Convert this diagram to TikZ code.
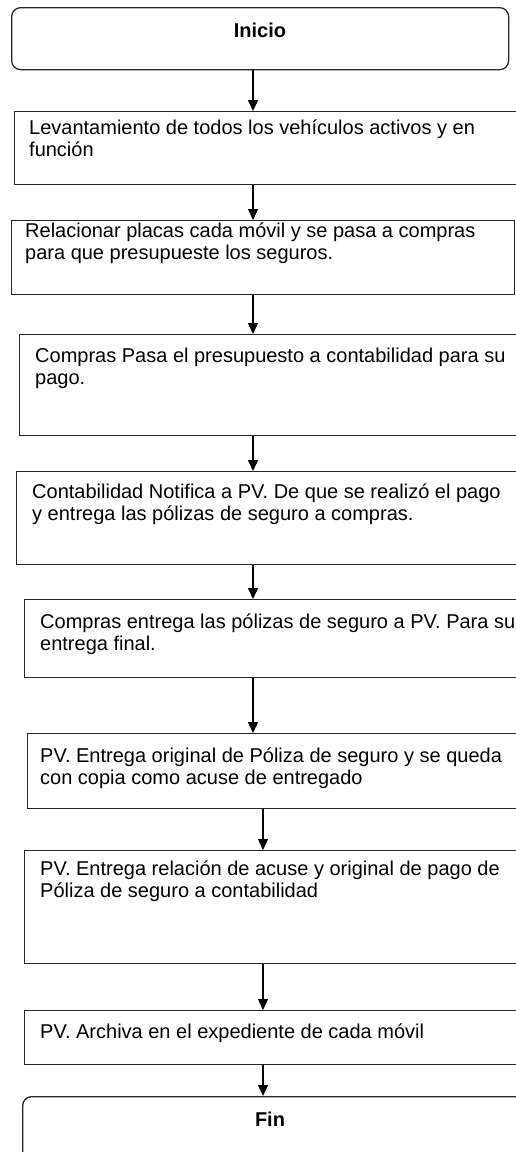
\documentclass[tikz,border=0pt]{standalone}
\usepackage{fontspec}
\setmainfont{Liberation Sans}
\usetikzlibrary{arrows.meta,calc}
\begin{document}
\begin{tikzpicture}[x=1pt,y=-1pt,
  box/.style={draw=black!85, line width=1.3pt, rectangle, inner sep=0pt, anchor=north west},
  term/.style={box, rounded corners=9pt},
  txt/.style={anchor=north west, inner sep=0pt, align=left, font=\fontsize{20}{22}\selectfont},
  ttl/.style={anchor=base, inner sep=0pt, font=\fontsize{20}{22}\selectfont\bfseries},
  arr/.style={draw=black, line width=1.3pt, -{Triangle[width=10pt,length=11pt]}}]
\useasboundingbox (0,0) rectangle (516,1152);
\clip (0,0) rectangle (516,1152);
\fill[white] (0,0) rectangle (516,1152);
% axes for connectors
\coordinate (axa) at (253,0);
\coordinate (axb) at (263,0);
% boxes
\node[term, minimum width=497pt, minimum height=62pt] (ini) at (11,7) {};
\node[box, minimum width=516pt, minimum height=73pt] (b1) at (14,111) {};
\node[box, minimum width=503pt, minimum height=74pt] (b2) at (11,220) {};
\node[box, minimum width=511pt, minimum height=101pt] (b3) at (19,334) {};
\node[box, minimum width=514pt, minimum height=93pt] (b4) at (16,471) {};
\node[box, minimum width=506pt, minimum height=78pt] (b5) at (24,599) {};
\node[box, minimum width=503pt, minimum height=75pt] (b6) at (27,733) {};
\node[box, minimum width=506pt, minimum height=113pt] (b7) at (24,850) {};
\node[box, minimum width=506pt, minimum height=54pt] (b8) at (24,1010) {};
\node[term, minimum width=508pt, minimum height=70pt] (fin) at (22,1096) {};
% texts
\node[ttl] (tini) at (260,37) {Inicio};
\node[txt] (t1) at (29,118) {\rule{0pt}{16pt}Levantamiento de todos los vehículos activos y en\\función};
\node[txt] (t2) at (25,221) {\rule{0pt}{16pt}Relacionar placas cada móvil y se pasa a compras\\para que presupueste los seguros.};
\node[txt] (t3) at (35,346) {\rule{0pt}{16pt}Compras Pasa el presupuesto a contabilidad para su\\pago.};
\node[txt] (t4) at (32,482) {\rule{0pt}{16pt}Contabilidad Notifica a PV. De que se realizó el pago\\y entrega las pólizas de seguro a compras.};
\node[txt] (t5) at (40,612) {\rule{0pt}{16pt}Compras entrega las pólizas de seguro a PV. Para su\\entrega final.};
\node[txt] (t6) at (40,746) {\rule{0pt}{16pt}PV. Entrega original de Póliza de seguro y se queda\\con copia como acuse de entregado};
\node[txt] (t7) at (40,859) {\rule{0pt}{16pt}PV. Entrega relación de acuse y original de pago de\\Póliza de seguro a contabilidad};
\node[txt] (t8) at (40,1022) {\rule{0pt}{16pt}PV. Archiva en el expediente de cada móvil};
\node[ttl] (tfin) at (270,1126) {Fin};
% connectors
\draw[arr] (ini.south -| axa) -- (b1.north -| axa);
\draw[arr] (b1.south -| axa) -- (b2.north -| axa);
\draw[arr] (b2.south -| axa) -- (b3.north -| axa);
\draw[arr] (b3.south -| axa) -- (b4.north -| axa);
\draw[arr] (b4.south -| axa) -- (b5.north -| axa);
\draw[arr] (b5.south -| axa) -- (b6.north -| axa);
\draw[arr] (b6.south -| axb) -- (b7.north -| axb);
\draw[arr] (b7.south -| axb) -- (b8.north -| axb);
\draw[arr] (b8.south -| axb) -- (fin.north -| axb);
\end{tikzpicture}
\end{document}
